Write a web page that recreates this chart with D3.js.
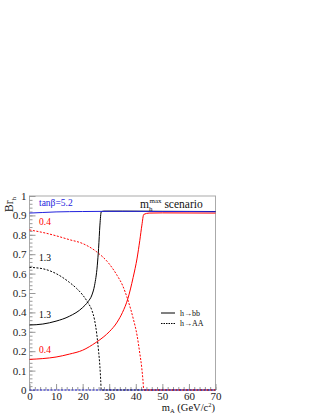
<!DOCTYPE html>
<html>
<head>
<meta charset="utf-8">
<script src="https://cdn.jsdelivr.net/npm/d3@7"></script>
<style>
  body { margin: 0; background: #fff; }
  svg text { font-family: "Liberation Serif", "Times New Roman", Times, serif !important; }
</style>
</head>
<body>
<div id="viz"></div>
<script>
// h -> bb and h -> AA branching ratios vs mA
var mA_bb13 = [0, 5, 10, 15, 20, 22, 23.5, 24.5, 25.5, 26, 26.5, 27, 28, 35, 50, 70];
var bb13    = [0.335, 0.34, 0.355, 0.38, 0.425, 0.455, 0.49, 0.54, 0.64, 0.73, 0.85, 0.918, 0.922, 0.922, 0.921, 0.92];
var mA_aa13 = [0, 5, 10, 15, 18, 20, 22, 23.5, 24.5, 25.3, 26, 26.5, 26.8, 27, 70];
var aa13    = [0.632, 0.625, 0.6, 0.555, 0.52, 0.49, 0.45, 0.41, 0.36, 0.29, 0.2, 0.12, 0.05, 0, 0];

var mA_bb04 = [0, 5, 10, 15, 20, 25, 28, 30, 33, 35, 37, 39, 40.5, 41.5, 42.3, 43, 45, 50, 70];
var bb04    = [0.158, 0.162, 0.17, 0.185, 0.205, 0.245, 0.275, 0.3, 0.35, 0.4, 0.47, 0.58, 0.68, 0.77, 0.85, 0.905, 0.912, 0.913, 0.912];
var mA_aa04 = [0, 5, 10, 15, 20, 25, 30, 33, 35, 37, 39, 40.5, 41.5, 42.2, 42.7, 43, 70];
var aa04    = [0.825, 0.812, 0.795, 0.775, 0.755, 0.715, 0.65, 0.59, 0.54, 0.465, 0.37, 0.28, 0.19, 0.12, 0.05, 0, 0];

var mA_bb52 = [0, 5, 10, 20, 30, 40, 50, 60, 70];
var bb52    = [0.912, 0.915, 0.918, 0.92, 0.921, 0.921, 0.92, 0.92, 0.919];
var mA_aa52 = [0, 70];
var aa52    = [0, 0];

var xMajor = [0, 10, 20, 30, 40, 50, 60, 70];
var yMajor = [0, 0.1, 0.2, 0.3, 0.4, 0.5, 0.6, 0.7, 0.8, 0.9, 1];

var width = 320, height = 414;

var x = d3.scaleLinear().domain([0, 70]).range([29.5, 215.5]);
var y = d3.scaleLinear().domain([0, 1]).range([390, 196]);

var svg = d3.select('#viz').append('svg')
    .attr('width', width)
    .attr('height', height);

// frame
svg.append('rect')
    .attr('x', x(0)).attr('y', y(1))
    .attr('width', x(70) - x(0)).attr('height', y(0) - y(1))
    .style('fill', 'none').style('stroke', '#aaa').style('stroke-width', 1);

// ticks (inward, ROOT style)
var xMinor = d3.range(0, 70.01, 2);
var yMinor = d3.range(0, 1.001, 0.02);

svg.append('g').attr('transform', 'translate(0,' + y(0) + ')')
    .call(d3.axisBottom(x).tickValues(xMinor).tickSize(-3).tickFormat(''))
    .call(function(g) { g.select('.domain').remove(); g.selectAll('line').style('stroke', '#999'); });
svg.append('g').attr('transform', 'translate(0,' + y(0) + ')')
    .call(d3.axisBottom(x).tickValues(xMajor).tickSize(-6).tickPadding(2).tickFormat(d3.format('d')))
    .call(function(g) {
      g.select('.domain').remove();
      g.selectAll('line').style('stroke', '#999');
      g.selectAll('text').style('font-size', '11px').style('fill', '#222');
    });

svg.append('g').attr('transform', 'translate(' + x(0) + ',0)')
    .call(d3.axisLeft(y).tickValues(yMinor).tickSize(-3).tickFormat(''))
    .call(function(g) { g.select('.domain').remove(); g.selectAll('line').style('stroke', '#999'); });
svg.append('g').attr('transform', 'translate(' + x(0) + ',0)')
    .call(d3.axisLeft(y).tickValues(yMajor).tickSize(-6).tickPadding(3)
      .tickFormat(function(d) { return d === 0 || d === 1 ? d3.format('d')(d) : d3.format('.1f')(d); }))
    .call(function(g) {
      g.select('.domain').remove();
      g.selectAll('line').style('stroke', '#999');
      g.selectAll('text').style('font-size', '11px').style('fill', '#222');
    });

// curves
var line = d3.line()
    .x(function(d) { return x(d[0]); })
    .y(function(d) { return y(d[1]); })
    .curve(d3.curveMonotoneX);

var curves = [
  { mA: mA_aa13, v: aa13, color: '#000', dash: '2,1.5' },
  { mA: mA_aa04, v: aa04, color: '#f00', dash: '2,1.5' },
  { mA: mA_aa52, v: aa52, color: '#22d', dash: '2,1.5' },
  { mA: mA_bb04, v: bb04, color: '#f00', dash: null },
  { mA: mA_bb13, v: bb13, color: '#000', dash: null },
  { mA: mA_bb52, v: bb52, color: '#22d', dash: null }
];

svg.selectAll('path.curve').data(curves)
  .enter().append('path')
    .attr('class', 'curve')
    .attr('d', function(c) { return line(d3.zip(c.mA, c.v)); })
    .style('fill', 'none')
    .style('stroke', function(c) { return c.color; })
    .style('stroke-width', 1)
    .style('stroke-dasharray', function(c) { return c.dash; });

// curve labels
var labels = [
  { t: 'tanβ=5.2', v: 0.95, color: '#22d' },
  { t: '0.4', v: 0.852, color: '#f00' },
  { t: '1.3', v: 0.665, color: '#000' },
  { t: '1.3', v: 0.372, color: '#000' },
  { t: '0.4', v: 0.192, color: '#f00' }
];
svg.selectAll('text.lab').data(labels)
  .enter().append('text')
    .attr('class', 'lab')
    .attr('x', 39)
    .attr('y', function(d) { return y(d.v); })
    .style('font-size', '9.5px')
    .style('fill', function(d) { return d.color; })
    .text(function(d) { return d.t; });

// scenario label
var sc = svg.append('text').attr('x', 140).attr('y', 207.5).style('font-size', '11.5px').style('fill', '#111');
sc.append('tspan').text('m');
sc.append('tspan').attr('dy', 3).style('font-size', '7px').text('h');
sc.append('tspan').attr('dy', -8).attr('dx', -3).style('font-size', '7px').text('max');
sc.append('tspan').attr('dy', 5).text(' scenario');

// legend
var legend = [
  { t: 'h→bb', dash: null, v: 313 },
  { t: 'h→AA', dash: '1.5,1', v: 323.5 }
];
var lg = svg.selectAll('g.leg').data(legend).enter().append('g').attr('class', 'leg');
lg.append('line')
    .attr('x1', 161).attr('x2', 175)
    .attr('y1', function(d) { return d.v; }).attr('y2', function(d) { return d.v; })
    .style('stroke', '#000').style('stroke-width', 1)
    .style('stroke-dasharray', function(d) { return d.dash; });
lg.append('text')
    .attr('x', 180).attr('y', function(d) { return d.v + 2.5; })
    .style('font-size', '8px').style('fill', '#111')
    .text(function(d) { return d.t; });

// axis titles
var xt = svg.append('text').attr('x', 215).attr('y', 410.5).attr('text-anchor', 'end')
    .style('font-size', '10.5px').style('fill', '#111');
xt.append('tspan').text('m');
xt.append('tspan').attr('dy', 2.5).style('font-size', '6.5px').text('A');
xt.append('tspan').attr('dy', -2.5).text(' (GeV/c');
xt.append('tspan').attr('dy', -3.5).style('font-size', '6.5px').text('2');
xt.append('tspan').attr('dy', 3.5).text(')');

var yt = svg.append('text').attr('transform', 'translate(13,197) rotate(-90)').attr('text-anchor', 'end')
    .style('font-size', '11.5px').style('fill', '#111');
yt.append('tspan').text('Br');
yt.append('tspan').attr('dy', 3).style('font-size', '7px').text('h');
</script>
</body>
</html>
